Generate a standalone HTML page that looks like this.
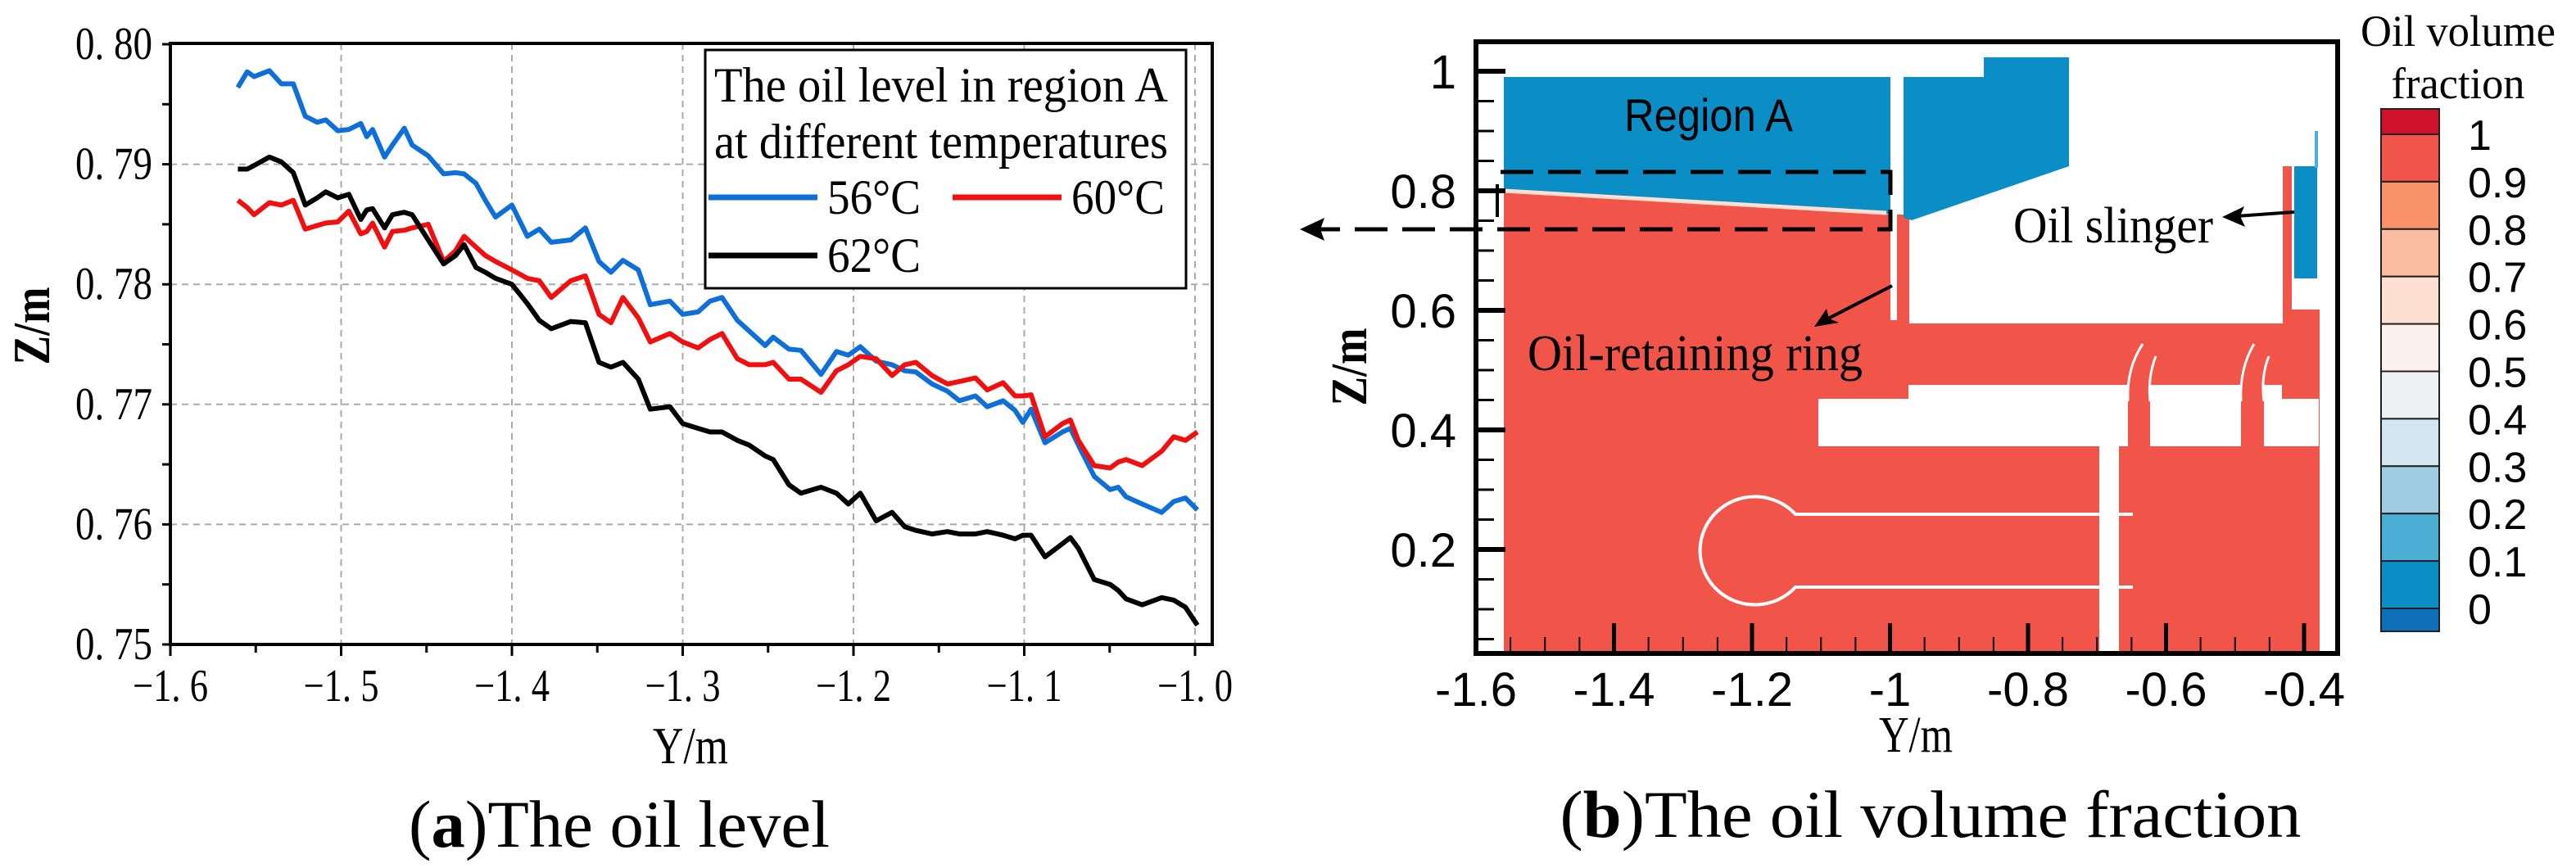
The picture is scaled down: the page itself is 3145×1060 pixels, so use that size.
<!DOCTYPE html>
<html><head><meta charset="utf-8"><style>
html,body{margin:0;padding:0;background:#fff;}
svg{display:block;}
.serif{font-family:"Liberation Serif",serif;}
.sans{font-family:"Liberation Sans",sans-serif;}
</style></head><body>
<svg id="fig" width="3145" height="1060" viewBox="0 0 3145 1060" xmlns="http://www.w3.org/2000/svg">
<g id="left"></g>
<g id="right">
  <polygon fill="#f1554a" points="1836,233 2310,262 2331,262 2331,395 2787,395 2787,203 2798,203 2798,378 2832,378 2832,798 1836,798"/>
  <polygon fill="#0b8dc5" points="1836,94 2308,94 2308,262 2300,260 1836,231"/>
  <polygon fill="#0b8dc5" points="2324,94 2422,94 2422,70 2526,70 2526,203 2334,269 2324,266"/>
  <polyline points="1836,233 2303,260" stroke="#fde0d2" stroke-width="5" fill="none"/>
  <rect x="2308" y="88" width="8" height="303" fill="#fff"/>
  <rect x="2801" y="203" width="28" height="137" fill="#0b8dc5"/>
  <rect x="2826" y="160" width="4" height="45" fill="#4aaed5"/>
  <rect x="2798" y="340" width="34" height="38" fill="#fff"/>
  <rect x="2330" y="470" width="456" height="75" fill="#fff"/>
  <rect x="2220" y="487" width="611" height="58" fill="#fff"/>
  <rect x="2598" y="440" width="27" height="105" fill="#f1554a"/>
  <rect x="2736" y="440" width="28" height="105" fill="#f1554a"/>
  <path d="M2598,490 Q2596,450 2616,420 M2625,490 Q2622,460 2632,435" stroke="#fff" stroke-width="3" fill="none"/>
  <path d="M2736,490 Q2734,450 2752,420 M2764,490 Q2760,460 2770,435" stroke="#fff" stroke-width="3" fill="none"/>
  <rect x="2563" y="545" width="24" height="253" fill="#fff"/>
  <path d="M2604,628 L2192,628 A67,66 0 1,0 2192,717 L2604,717" stroke="#fff" stroke-width="4" fill="none"/>
  <path d="M1832,210 L2308,210 L2308,280 L1600,280" stroke="#000" stroke-width="5" stroke-dasharray="40,18" fill="none"/>
  <line x1="1828" y1="225" x2="1828" y2="265" stroke="#000" stroke-width="4"/>
  <polygon points="1587,280 1617,266 1612,280 1617,294" fill="#000"/>
  <text class="sans" x="1983" y="160" font-size="56" textLength="206" lengthAdjust="spacingAndGlyphs">Region A</text>
  <text class="serif" x="2458" y="296" font-size="62" textLength="244" lengthAdjust="spacingAndGlyphs">Oil slinger</text>
  <text class="serif" x="1865" y="452" font-size="62" textLength="409" lengthAdjust="spacingAndGlyphs">Oil-retaining ring</text>
  <line x1="2801" y1="259" x2="2730" y2="264" stroke="#000" stroke-width="4"/>
  <polygon points="2713,265 2740,252 2735,264 2741,277" fill="#000"/>
  <line x1="2310" y1="349" x2="2230" y2="390" stroke="#000" stroke-width="4"/>
  <polygon points="2215,399 2230,377 2233,389 2245,394" fill="#000"/>
  <path d="M1802,51 L2854,51 L2854,798 L1802,798 Z" stroke="#000" stroke-width="6" fill="none"/>
  <g id="rticks"></g>
  <text class="serif" x="2339" y="918" font-size="62" text-anchor="middle" textLength="90" lengthAdjust="spacingAndGlyphs">Y/m</text>
  <text class="serif" font-size="62" font-weight="bold" text-anchor="middle" textLength="95" lengthAdjust="spacingAndGlyphs" transform="translate(1668,448) rotate(-90)">Z/m</text>
  <text class="serif" x="2357" y="1022" font-size="82" text-anchor="middle" textLength="905" lengthAdjust="spacingAndGlyphs">(<tspan font-weight="bold">b</tspan>)The oil volume fraction</text>
  <text class="serif" x="3001" y="56" font-size="54" text-anchor="middle" textLength="238" lengthAdjust="spacingAndGlyphs">Oil volume</text>
  <text class="serif" x="3001" y="120" font-size="54" text-anchor="middle" textLength="163" lengthAdjust="spacingAndGlyphs">fraction</text>
  <g id="cbar"></g>
</g>
</svg>
<script>
var NS="http://www.w3.org/2000/svg";
function mk(p,tag,at,txt){var e=document.createElementNS(NS,tag);for(var k in at)e.setAttribute(k,at[k]);if(txt!==undefined)e.textContent=txt;p.appendChild(e);return e;}

var yPos=[-1.5605,-1.555,-1.551,-1.542,-1.535,-1.528,-1.521,-1.514,-1.509,-1.502,-1.4955,-1.4885,-1.485,-1.4816,-1.4746,-1.470,-1.463,-1.4584,-1.449,-1.440,-1.433,-1.428,-1.421,-1.4156,-1.4096,-1.400,-1.391,-1.384,-1.377,-1.3655,-1.357,-1.349,-1.342,-1.335,-1.326,-1.319,-1.3075,-1.300,-1.291,-1.284,-1.277,-1.268,-1.261,-1.2517,-1.247,-1.2378,-1.2308,-1.219,-1.210,-1.203,-1.196,-1.1867,-1.1774,-1.170,-1.1635,-1.154,-1.145,-1.138,-1.1286,-1.1217,-1.1124,-1.1054,-1.1008,-1.096,-1.0878,-1.0776,-1.073,-1.0683,-1.059,-1.0497,-1.045,-1.0404,-1.031,-1.0195,-1.0125,-1.0056,-0.9986];
var z56=[0.7964,0.7977,0.7973,0.7978,0.7967,0.7967,0.7940,0.7935,0.7937,0.7928,0.7929,0.7934,0.7923,0.7929,0.7906,0.7916,0.7930,0.7916,0.7907,0.7892,0.7893,0.7892,0.7884,0.7870,0.7856,0.7866,0.7840,0.7846,0.7835,0.7837,0.7847,0.7819,0.7810,0.7820,0.7812,0.7783,0.7786,0.7775,0.7777,0.7786,0.7789,0.7770,0.7761,0.7749,0.7756,0.7746,0.7745,0.7725,0.7744,0.7741,0.7748,0.7736,0.7733,0.7728,0.7727,0.7717,0.7711,0.7703,0.7707,0.7698,0.7703,0.7695,0.7685,0.7696,0.7668,0.7677,0.7680,0.7666,0.7640,0.7629,0.7631,0.7623,0.7617,0.7610,0.7619,0.7622,0.7612];
var z60=[0.7870,0.7864,0.7858,0.7868,0.7866,0.7870,0.7846,0.7849,0.7851,0.7852,0.7861,0.7842,0.7844,0.7851,0.7831,0.7844,0.7845,0.7847,0.7850,0.7819,0.7828,0.7840,0.7831,0.7824,0.7819,0.7812,0.7805,0.7803,0.7789,0.7803,0.7807,0.7775,0.7768,0.7789,0.7772,0.7752,0.7759,0.7752,0.7747,0.7754,0.7759,0.7738,0.7733,0.7733,0.7735,0.7721,0.7721,0.7710,0.7728,0.7733,0.7740,0.7738,0.7724,0.7733,0.7735,0.7724,0.7717,0.7719,0.7722,0.7712,0.7718,0.7707,0.7707,0.7708,0.7673,0.7684,0.7687,0.7670,0.7649,0.7647,0.7652,0.7654,0.7649,0.7661,0.7673,0.7670,0.7677];
var z62=[0.7896,0.7896,0.7899,0.7906,0.7902,0.7893,0.7866,0.7872,0.7877,0.7872,0.7875,0.7854,0.7862,0.7863,0.7847,0.7858,0.7860,0.7858,0.7837,0.7817,0.7824,0.7833,0.7814,0.7810,0.7805,0.7800,0.7784,0.7770,0.7763,0.7769,0.7768,0.7735,0.7731,0.7735,0.7721,0.7696,0.7698,0.7684,0.7680,0.7677,0.7677,0.7670,0.7666,0.7657,0.7654,0.7633,0.7626,0.7631,0.7626,0.7617,0.7626,0.7603,0.7610,0.7598,0.7595,0.7592,0.7594,0.7592,0.7592,0.7594,0.7591,0.7588,0.7591,0.7591,0.7573,0.7584,0.7589,0.7580,0.7554,0.7550,0.7545,0.7538,0.7533,0.7539,0.7537,0.7531,0.7516];
var xTicks=[-1.6,-1.5,-1.4,-1.3,-1.2,-1.1,-1.0];
var xTickLabels=["\u22121. 6","\u22121. 5","\u22121. 4","\u22121. 3","\u22121. 2","\u22121. 1","\u22121. 0"];
var yTicks=[0.75,0.76,0.77,0.78,0.79,0.80];
var yTickLabels=["0. 75","0. 76","0. 77","0. 78","0. 79","0. 80"];

var L=208,R=1480,T=53,B=787;
function sx(v){return L+(v-(-1.6))/0.6*(1459-208);}
function sy(v){return 787-(v-0.75)/0.05*(787-54);}

var g=document.getElementById('left');
xTicks.forEach(function(t,i){
  if(i>0){var l=mk(g,'line',{x1:sx(t),x2:sx(t),y1:T,y2:B,stroke:'#aaa','stroke-width':2,'stroke-dasharray':'8,6'});
  
  }
});
yTicks.forEach(function(t,i){
  if(i>0&&i<yTicks.length-1){var l=mk(g,'line',{x1:L,x2:R,y1:sy(t),y2:sy(t),stroke:'#aaa','stroke-width':2,'stroke-dasharray':'8,6'});
  
  }
});
var series=[[z56,'#0f6fd8','series-56c'],[z60,'#f01010','series-60c'],[z62,'#000','series-62c']];
series.forEach(function(s){
  var pts=yPos.map(function(x,i){return sx(x).toFixed(1)+','+sy(s[0][i]).toFixed(1);}).join(' ');
  var p=mk(g,'polyline',{points:pts,fill:'none',stroke:s[1],'stroke-width':6,'stroke-linejoin':'round'});
  
  
});
var fr=mk(g,'rect',{x:L,y:T,width:R-L,height:B-T,fill:'none',stroke:'#000','stroke-width':4});


for(var v=-1.6;v<=-0.999;v+=0.05){
  var major=Math.abs(Math.round(v*10)-v*10)<1e-6;
  var t=mk(g,'line',{x1:sx(v),x2:sx(v),y1:B,y2:B+(major?14:10),stroke:'#000','stroke-width':3});
  
  
}
for(var v=0.75;v<=0.8001;v+=0.005){
  var t=mk(g,'line',{x1:L-10,x2:L,y1:sy(v),y2:sy(v),stroke:'#000','stroke-width':3});
  
  
}
xTicks.forEach(function(t,i){
  var e=mk(g,'text',{x:sx(t),y:856,'font-size':56,'text-anchor':'middle','class':'serif',textLength:92,lengthAdjust:'spacingAndGlyphs'},xTickLabels[i]);
  
  
});
yTicks.forEach(function(t,i){
  var e=mk(g,'text',{x:186,y:sy(t)+18,'font-size':56,'text-anchor':'end','class':'serif',textLength:94,lengthAdjust:'spacingAndGlyphs'},yTickLabels[i]);
  
  
});
var e=mk(g,'text',{x:843,y:932,'font-size':64,'text-anchor':'middle','class':'serif',textLength:92,lengthAdjust:'spacingAndGlyphs'},'Y/m');


e=mk(g,'text',{'font-size':64,'text-anchor':'middle','class':'serif','font-weight':'bold',textLength:95,lengthAdjust:'spacingAndGlyphs',transform:'translate(60,398) rotate(-90)'},'Z/m');


e=mk(g,'text',{x:756,y:1034,'font-size':82,'text-anchor':'middle','class':'serif',textLength:514,lengthAdjust:'spacingAndGlyphs'});


e.innerHTML='(<tspan font-weight="bold">a</tspan>)The oil level';
var lg=mk(g,'g',{});


mk(lg,'rect',{x:861,y:61,width:587,height:291,fill:'#fff',stroke:'#000','stroke-width':3});
e=mk(lg,'text',{x:872,y:124,'font-size':60,'class':'serif',textLength:554,lengthAdjust:'spacingAndGlyphs'},'The oil level in region A');


e=mk(lg,'text',{x:872,y:193,'font-size':60,'class':'serif',textLength:554,lengthAdjust:'spacingAndGlyphs'},'at different temperatures');


var items=[[865,241,'#0f6fd8','56\u00b0C','legend-entry-56c'],[1163,241,'#f01010','60\u00b0C','legend-entry-60c'],[865,312,'#000','62\u00b0C','legend-entry-62c']];
items.forEach(function(it){
  var gi=mk(lg,'g',{});
  
  
  mk(gi,'line',{x1:it[0],x2:it[0]+133,y1:it[1],y2:it[1],stroke:it[2],'stroke-width':7});
  mk(gi,'text',{x:it[0]+145,y:it[1]+20,'font-size':60,'class':'serif',textLength:114,lengthAdjust:'spacingAndGlyphs'},it[3]);
});

var rg=document.getElementById('rticks');
var rYTicks=[0.2,0.4,0.6,0.8,1];
var rYLabels=["0.2","0.4","0.6","0.8","1"];
var rXTicks=[-1.6,-1.4,-1.2,-1,-0.8,-0.6,-0.4];
var rXLabels=["-1.6","-1.4","-1.2","-1","-0.8","-0.6","-0.4"];
function rx(v){return 1802+(v+1.6)/0.2*168.5;}
function ry(v){return 233-(v-0.8)/0.2*146;}
for(var v=0.05;v<=1.001;v+=0.05){
  var maj=Math.abs(Math.round(v*5)-v*5)<1e-6;
  var t=mk(rg,'line',{x1:1802,x2:1802+(maj?36:22),y1:ry(v),y2:ry(v),stroke:'#000','stroke-width':maj?6:3});
  
  
}
for(var v=-1.6;v<=-0.399;v+=0.05){
  var maj=Math.abs(Math.round(v*5)-v*5)<1e-6;
  var t=mk(rg,'line',{x1:rx(v),x2:rx(v),y1:798,y2:798-(maj?37:20),stroke:'#000','stroke-width':maj?5:2});
  
  
}
rYTicks.forEach(function(t,i){
  var e=mk(rg,'text',{x:1778,y:ry(t)+21,'font-size':58,'text-anchor':'end','class':'sans'},rYLabels[i]);
  
  
});
rXTicks.forEach(function(t,i){
  var e=mk(rg,'text',{x:rx(t),y:862,'font-size':58,'text-anchor':'middle','class':'sans'},rXLabels[i]);
  
  
});
var cb=document.getElementById('cbar');
var cbLevels=[1,0.9,0.8,0.7,0.6,0.5,0.4,0.3,0.2,0.1,0];
var cbLabels=["1","0.9","0.8","0.7","0.6","0.5","0.4","0.3","0.2","0.1","0"];
var cbColors=["#d0112b","#f1554a","#fa9269","#fcbca0","#fde0d2","#fdf1ee","#edf1f4","#d2e6ef","#9ecde3","#4aaed5","#0b8dc5","#0c6fb8"];
function cy(v){return 164+(1-v)*579;}
var bounds=[133].concat(cbLevels.map(cy)).concat([771]);
cbColors.forEach(function(c,i){
  var r=mk(cb,'rect',{x:2907,y:bounds[i],width:71,height:bounds[i+1]-bounds[i],fill:c,stroke:'#222','stroke-width':2});
  
  
});
cbLevels.forEach(function(v,i){
  var e=mk(cb,'text',{x:3013,y:cy(v)+19,'font-size':52,'class':'sans'},cbLabels[i]);
  
  
});
</script>
</body></html>
